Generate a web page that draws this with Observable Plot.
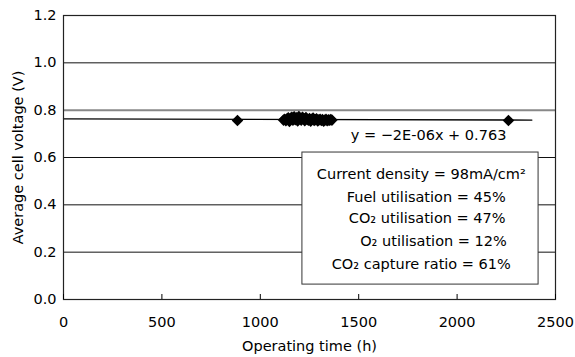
<!DOCTYPE html>
<html>
<head>
<meta charset="utf-8">
<script src="https://cdn.jsdelivr.net/npm/d3@7"></script>
<script src="https://cdn.jsdelivr.net/npm/@observablehq/plot@0.6"></script>
<style>
  html, body { margin: 0; padding: 0; background: #fff; }
  #chart svg { display: block; }
</style>
</head>
<body>
<div id="chart"></div>
<script>
// Operating time (h)
const times = [
  884,
  1118, 1124, 1130, 1136, 1142, 1148, 1154, 1160, 1166, 1172,
  1178, 1184, 1190, 1196, 1202, 1208, 1214, 1220, 1226, 1232,
  1238, 1244, 1250, 1256, 1262, 1268, 1274, 1280, 1286, 1292,
  1298, 1304, 1310, 1316, 1322, 1328, 1334, 1340, 1346, 1352,
  1358, 1364,
  2261
];
// Average cell voltage (V)
const voltages = [
  0.756,
  0.758, 0.762, 0.755, 0.764, 0.768, 0.752, 0.766, 0.770, 0.757, 0.772,
  0.760, 0.768, 0.754, 0.773, 0.764, 0.758, 0.770, 0.766, 0.755, 0.769,
  0.762, 0.757, 0.765, 0.753, 0.761, 0.767, 0.756, 0.760, 0.764, 0.754,
  0.759, 0.762, 0.756, 0.760, 0.753, 0.758, 0.761, 0.755, 0.759, 0.757,
  0.760, 0.758,
  0.756
];
// Linear trend  y = -2E-06x + 0.763
const trendSlope = -2e-6;
const trendIntercept = 0.763;
const trendRange = [0, 2380];

const xTicks = [0, 500, 1000, 1500, 2000, 2500];
const yTicks = [0, 0.2, 0.4, 0.6, 0.8, 1.0, 1.2];
const gridDark = [0.2, 0.4, 0.6, 1.0];
const gridLight = [0.8];

const equationText = "y = −2E-06x + 0.763";
const boxLines = [
  "Current density = 98mA/cm²",
  "Fuel utilisation = 45%",
  "CO₂ utilisation = 47%",
  "O₂ utilisation = 12%",
  "CO₂ capture ratio = 61%"
];

const points = times.map((t, i) => ({t, v: voltages[i]}));
const trend = trendRange.map(t => ({t, v: trendSlope * t + trendIntercept}));

// annotation placement (in data units)
const boxX = [1214, 2414], boxY = [0.063, 0.621];
const lineX = [1818, 1843, 1848, 1880, 1818];
const lineY = [0.528, 0.431, 0.342, 0.245, 0.148];
const boxText = boxLines.map((s, i) => ({s, x: lineX[i], y: lineY[i]}));

const font = "'DejaVu Sans', 'Liberation Sans', sans-serif";
const fs = 14.5;

const chart = Plot.plot({
  width: 575,
  height: 357,
  marginLeft: 63,
  marginRight: 20,
  marginTop: 15,
  marginBottom: 58,
  style: {fontFamily: font, fontSize: fs + "px", color: "#000", background: "#fff"},
  x: {domain: [0, 2500], ticks: xTicks, label: null},
  y: {domain: [0, 1.2], ticks: yTicks, label: null},
  marks: [
    Plot.ruleY(gridDark, {stroke: "#111", strokeWidth: 1}),
    Plot.ruleY(gridLight, {stroke: "#888", strokeWidth: 2}),
    Plot.line(trend, {x: "t", y: "v", stroke: "#000", strokeWidth: 1.3}),
    Plot.dot(points, {x: "t", y: "v", symbol: "diamond2", r: 5.2, fill: "#000", stroke: "none"}),
    Plot.rect([{}], {x1: () => boxX[0], x2: () => boxX[1], y1: () => boxY[0], y2: () => boxY[1], fill: "#fff", stroke: "#333", strokeWidth: 1}),
    Plot.text(boxText, {x: "x", y: "y", text: "s", fontSize: fs, fill: "#000", textAnchor: "middle"}),
    Plot.text([equationText], {x: 1855, y: 0.693, text: d => d, fontSize: fs, fill: "#000"}),
    Plot.frame({stroke: "#222", strokeWidth: 1.2}),
    Plot.axisX({ticks: xTicks, tickSize: -5, tickPadding: 22, fontSize: fs, tickFormat: d3.format("d"), label: null}),
    Plot.axisY({ticks: yTicks, tickSize: 0, tickPadding: 7, fontSize: fs, tickFormat: d3.format(".1f"), label: null}),
    Plot.text(["Operating time (h)"], {frameAnchor: "bottom", dy: 51, text: d => d, fontSize: fs, fill: "#000"}),
    Plot.text(["Average cell voltage (V)"], {frameAnchor: "left", dx: -45, rotate: -90, textAnchor: "middle", text: d => d, fontSize: fs, fill: "#000"})
  ]
});
document.getElementById("chart").appendChild(chart);
</script>
</body>
</html>
